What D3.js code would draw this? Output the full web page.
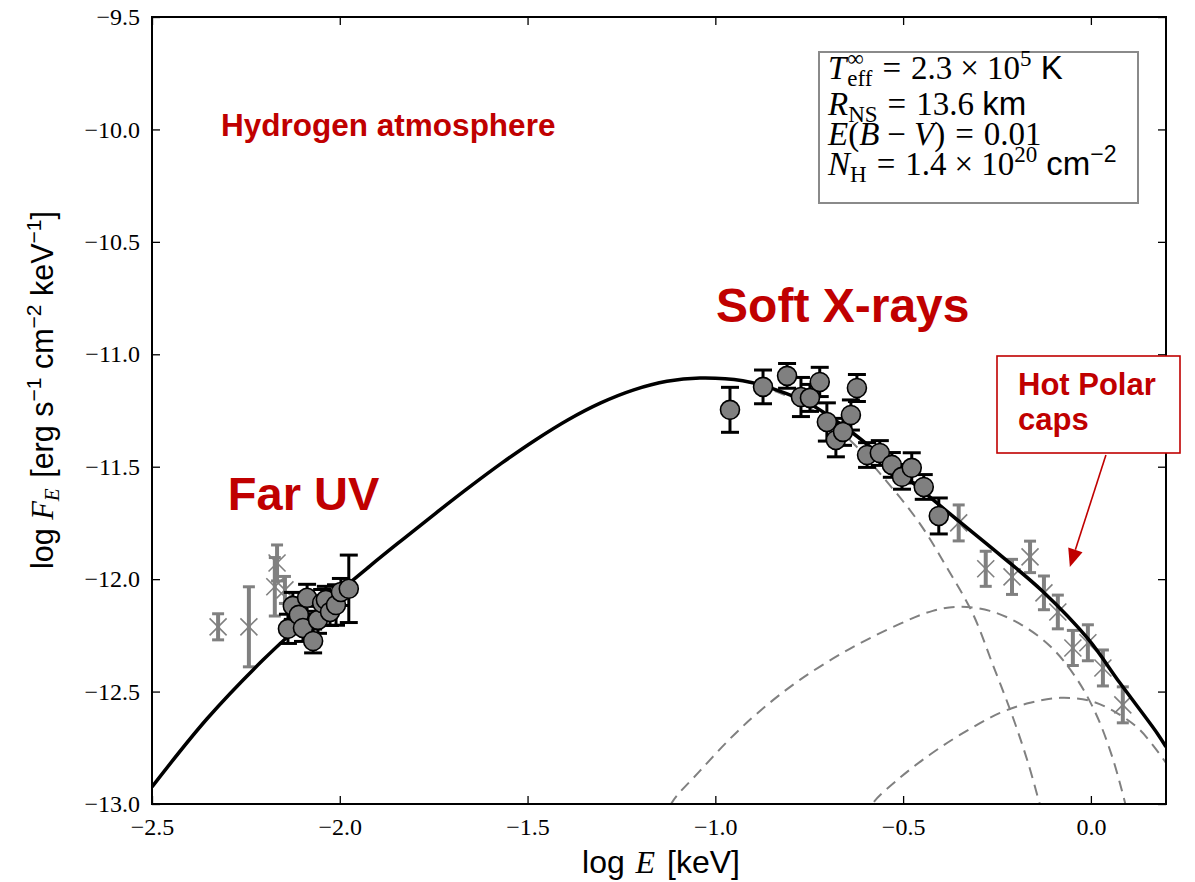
<!DOCTYPE html>
<html>
<head>
<meta charset="utf-8">
<script src="https://cdn.jsdelivr.net/npm/d3@7"></script>
<style>
  html, body { margin: 0; padding: 0; background: #fff; }
  svg { display: block; }
</style>
</head>
<body>
<svg id="chart" width="1195" height="882"></svg>
<script>
// ---------------- DATA (log E [keV], log F_E) ----------------
const xTicks = [-2.5, -2.0, -1.5, -1.0, -0.5, 0.0];
const xTickLabels = ["\u22122.5", "\u22122.0", "\u22121.5", "\u22121.0", "\u22120.5", "0.0"];
const yTicks = [-9.5, -10.0, -10.5, -11.0, -11.5, -12.0, -12.5, -13.0];
const yTickLabels = ["\u22129.5", "\u221210.0", "\u221210.5", "\u221211.0", "\u221211.5", "\u221212.0", "\u221212.5", "\u221213.0"];

// Total model (solid black)
const totalLogE = [-2.500, -2.354, -2.204, -2.063, -1.920, -1.832, -1.744, -1.656, -1.568, -1.480, -1.393, -1.305, -1.217, -1.129, -1.041, -0.927, -0.836, -0.748, -0.634, -0.509, -0.375, -0.242, -0.128, -0.008, 0.077, 0.176, 0.200];
const totalLogF = [-12.924, -12.622, -12.359, -12.143, -11.942, -11.823, -11.706, -11.592, -11.483, -11.382, -11.292, -11.216, -11.158, -11.120, -11.106, -11.118, -11.159, -11.221, -11.350, -11.523, -11.710, -11.892, -12.055, -12.265, -12.461, -12.684, -12.746];

// Hydrogen atmosphere component (dashed)
const atmLogE = [-2.500, -2.354, -2.204, -2.063, -1.920, -1.832, -1.744, -1.656, -1.568, -1.480, -1.393, -1.305, -1.217, -1.129, -1.041, -0.927, -0.836, -0.748, -0.642, -0.554, -0.455, -0.383, -0.314, -0.261, -0.208, -0.168, -0.136, -0.125];
const atmLogF = [-12.924, -12.622, -12.359, -12.143, -11.942, -11.823, -11.706, -11.592, -11.483, -11.382, -11.292, -11.216, -11.158, -11.120, -11.106, -11.118, -11.167, -11.239, -11.381, -11.545, -11.754, -11.950, -12.155, -12.381, -12.613, -12.813, -13.000, -13.060];

// Hot polar cap 1 (dashed)
const cap1LogE = [-1.135, -1.116, -1.041, -0.961, -0.881, -0.775, -0.642, -0.509, -0.421, -0.349, -0.269, -0.189, -0.109, -0.043, 0.011, 0.056, 0.091, 0.100];
const cap1LogF = [-13.08, -12.995, -12.853, -12.710, -12.586, -12.448, -12.310, -12.199, -12.141, -12.123, -12.141, -12.199, -12.297, -12.430, -12.590, -12.786, -12.995, -13.06];

// Hot polar cap 2 (dashed)
const cap2LogE = [-0.600, -0.580, -0.509, -0.429, -0.349, -0.242, -0.162, -0.083, -0.003, 0.064, 0.130, 0.200];
const cap2LogF = [-13.06, -12.995, -12.884, -12.781, -12.693, -12.595, -12.550, -12.528, -12.541, -12.590, -12.670, -12.817];

// Far UV detections (grey circles)
const fuvLogE = [-2.138, -2.125, -2.109, -2.098, -2.087, -2.071, -2.058, -2.047, -2.037, -2.026, -2.010, -1.997, -1.976];
const fuvLogF = [-12.221, -12.119, -12.159, -12.217, -12.083, -12.275, -12.181, -12.106, -12.092, -12.146, -12.115, -12.057, -12.043];
const fuvErr  = [0.065, 0.06, 0.06, 0.06, 0.06, 0.053, 0.06, 0.06, 0.06, 0.06, 0.09, 0.06, 0.15];

// Far UV grey crosses
const fuvXLogE = [-2.324, -2.242, -2.167, -2.173, -2.146];
const fuvXLogF = [-12.212, -12.212, -11.928, -12.034, -12.048];
const fuvXErr  = [0.058, 0.178, 0.08, 0.13, 0.06];

// Soft X-ray detections (grey circles)
const sxLogE = [-0.961, -0.873, -0.809, -0.772, -0.748, -0.722, -0.703, -0.679, -0.660, -0.639, -0.623, -0.596, -0.562, -0.530, -0.503, -0.477, -0.445, -0.405];
const sxLogF = [-11.247, -11.145, -11.096, -11.190, -11.194, -11.123, -11.301, -11.381, -11.345, -11.270, -11.150, -11.448, -11.439, -11.492, -11.545, -11.505, -11.590, -11.719];
const sxErr  = [0.10, 0.075, 0.055, 0.087, 0.06, 0.065, 0.085, 0.075, 0.06, 0.067, 0.06, 0.055, 0.055, 0.055, 0.055, 0.067, 0.055, 0.08];

// X-ray grey crosses
const hxLogE = [-0.352, -0.280, -0.210, -0.162, -0.125, -0.088, -0.048, -0.008, 0.032, 0.085];
const hxLogF = [-11.750, -11.954, -11.990, -11.901, -12.061, -12.146, -12.306, -12.283, -12.395, -12.559];
const hxErr  = [0.08, 0.078, 0.078, 0.07, 0.075, 0.075, 0.078, 0.08, 0.08, 0.08];

// ---------------- LAYOUT ----------------
const W = 1195, H = 882;
const margin = { left: 152, top: 17, right: 29, bottom: 78 };
const pw = W - margin.left - margin.right;   // 1014
const ph = H - margin.top - margin.bottom;   // 787

const RED = "#c00000";
const GREY = "#808080";
const SERIF = "'Liberation Serif', 'DejaVu Serif', serif";
const SANS = "'Liberation Sans', Arial, Helvetica, sans-serif";

const svg = d3.select("#chart");
const x = d3.scaleLinear().domain([-2.5, 0.2]).range([0, pw]);
const y = d3.scaleLinear().domain([-13.0, -9.5]).range([ph, 0]);

const g = svg.append("g").attr("transform", `translate(${margin.left},${margin.top})`);

svg.append("defs").append("clipPath").attr("id", "plotclip")
  .append("rect").attr("x", 0).attr("y", 0).attr("width", pw).attr("height", ph);

// ---------------- AXES ----------------
const tickLen = 8;
const axB = g.append("g").attr("transform", `translate(0,${ph})`)
  .call(d3.axisBottom(x).tickValues(xTicks).tickSize(-tickLen).tickPadding(14)
    .tickFormat((d, i) => xTickLabels[i]));
const axL = g.append("g")
  .call(d3.axisLeft(y).tickValues(yTicks).tickSize(-tickLen).tickPadding(12)
    .tickFormat((d, i) => yTickLabels[i]));
const axT = g.append("g")
  .call(d3.axisTop(x).tickValues(xTicks).tickSize(-tickLen).tickFormat(""));
const axR = g.append("g").attr("transform", `translate(${pw},0)`)
  .call(d3.axisRight(y).tickValues(yTicks).tickSize(-tickLen).tickFormat(""));
[axB, axL, axT, axR].forEach(a => {
  a.select(".domain").remove();
  a.selectAll(".tick line").attr("stroke", "#000").attr("stroke-width", 1.3);
  a.selectAll(".tick text").attr("fill", "#000")
    .style("font-family", SERIF).style("font-size", "24px");
});

// ---------------- CURVES ----------------
const plot = g.append("g").attr("clip-path", "url(#plotclip)");
const lineGen = d3.line().x(d => x(d[0])).y(d => y(d[1])).curve(d3.curveCatmullRom.alpha(0.5));
const zip = (a, b) => a.map((v, i) => [v, b[i]]);

[[atmLogE, atmLogF], [cap1LogE, cap1LogF], [cap2LogE, cap2LogF]].forEach(([e, f]) => {
  plot.append("path").datum(zip(e, f)).attr("d", lineGen)
    .attr("fill", "none").attr("stroke", GREY).attr("stroke-width", 2)
    .attr("stroke-dasharray", "11,7");
});

// grey crosses with error bars
function crosses(le, lf, err) {
  const pts = le.map((v, i) => ({ e: v, f: lf[i], s: err[i] }));
  const cg = plot.append("g");
  pts.forEach(p => {
    const cx = x(p.e), cy = y(p.f), t = y(p.f + p.s), b = y(p.f - p.s);
    cg.append("line").attr("x1", cx).attr("x2", cx).attr("y1", t).attr("y2", b)
      .attr("stroke", GREY).attr("stroke-width", 4);
    [t, b].forEach(yy => cg.append("line").attr("x1", cx - 6).attr("x2", cx + 6).attr("y1", yy).attr("y2", yy)
      .attr("stroke", GREY).attr("stroke-width", 3));
    const s = 8.5;
    cg.append("path").attr("d", `M${cx - s},${cy - s}L${cx + s},${cy + s}M${cx - s},${cy + s}L${cx + s},${cy - s}`)
      .attr("stroke", GREY).attr("stroke-width", 1.6).attr("fill", "none");
  });
}
crosses(fuvXLogE, fuvXLogF, fuvXErr);
crosses(hxLogE, hxLogF, hxErr);

// total model solid
plot.append("path").datum(zip(totalLogE, totalLogF)).attr("d", lineGen)
  .attr("fill", "none").attr("stroke", "#000").attr("stroke-width", 3.5);

// circles with error bars
function circles(le, lf, err) {
  const pts = le.map((v, i) => ({ e: v, f: lf[i], s: err[i] }));
  const bg = plot.append("g");
  pts.forEach(p => {
    const cx = x(p.e), t = y(p.f + p.s), b = y(p.f - p.s);
    bg.append("line").attr("x1", cx).attr("x2", cx).attr("y1", t).attr("y2", b)
      .attr("stroke", "#000").attr("stroke-width", 3);
    [t, b].forEach(yy => bg.append("line").attr("x1", cx - 9).attr("x2", cx + 9).attr("y1", yy).attr("y2", yy)
      .attr("stroke", "#000").attr("stroke-width", 3));
  });
  plot.append("g").selectAll("circle").data(pts).join("circle")
    .attr("cx", d => x(d.e)).attr("cy", d => y(d.f)).attr("r", 9.5)
    .attr("fill", GREY).attr("stroke", "#000").attr("stroke-width", 1.6);
}
circles(fuvLogE, fuvLogF, fuvErr);
circles(sxLogE, sxLogF, sxErr);

// frame
g.append("rect").attr("x", 0).attr("y", 0).attr("width", pw).attr("height", ph)
  .attr("fill", "none").attr("stroke", "#000").attr("stroke-width", 2);

// ---------------- RICH TEXT HELPER ----------------
function rich(parent, parts, baseSize) {
  const rg = parent.append("g");
  let cx = 0, lastStart = 0;
  parts.forEach(p => {
    const size = p.size || baseSize;
    if (!p.stack) cx += (p.pre || 0);
    const t = rg.append("text")
      .attr("x", p.stack ? lastStart : cx)
      .attr("y", p.shift || 0)
      .attr("fill", p.color || "#000")
      .style("font-family", p.serif ? SERIF : SANS)
      .style("font-style", p.italic ? "italic" : "normal")
      .style("font-size", size + "px")
      .text(p.t);
    const w = t.node().getComputedTextLength();
    if (p.stack) cx = Math.max(cx, lastStart + w);
    else { lastStart = cx; cx += w + (p.after || 0); }
  });
  return { g: rg, width: cx };
}
const S = "\u00A0";

// ---------------- AXIS LABELS ----------------
{
  const r = rich(svg, [
    { t: "log" + S },
    { t: "E", serif: true, italic: true, pre: 2, after: 3 },
    { t: S + "[keV]" }
  ], 32);
  r.g.attr("transform", `translate(${margin.left + pw * 0.5 - r.width / 2 + 2},${H - 9})`);
}
{
  const r = rich(svg, [
    { t: "log" + S },
    { t: "F", serif: true, italic: true },
    { t: "E", serif: true, italic: true, size: 21, shift: 6, after: 2 },
    { t: S + "[erg" + S + "s" },
    { t: "\u22121", size: 21, shift: -12 },
    { t: S + "cm" },
    { t: "\u22122", size: 21, shift: -12 },
    { t: S + "keV" },
    { t: "\u22121", size: 21, shift: -12 },
    { t: "]" }
  ], 30.5);
  r.g.attr("transform", `translate(53,${390 + r.width / 2}) rotate(-90)`);
}

// ---------------- ANNOTATIONS ----------------
function label(txt, e, f, size) {
  g.append("text").attr("x", x(e)).attr("y", y(f)).attr("fill", RED)
    .style("font-family", SANS).style("font-weight", "bold").style("font-size", size + "px")
    .text(txt);
}
label("Hydrogen atmosphere", -2.316, -10.029, 31.5);
label("Far UV", -2.298, -11.692, 47);
label("Soft X-rays", -0.998, -10.856, 48);

// parameter box
{
  const bx = margin.left + 667, by = margin.top + 35, bw = 319, bh = 151;
  svg.append("rect").attr("x", bx).attr("y", by).attr("width", bw).attr("height", bh)
    .attr("fill", "#fff").attr("stroke", "#8a8a8a").attr("stroke-width", 2);
  const sub = 23;
  const lines = [
    [{ t: "T", serif: true, italic: true, after: 1 },
     { t: "\u221E", serif: true, size: sub, shift: -13 },
     { t: "eff", serif: true, size: sub, shift: 7, stack: true },
     { t: "=", serif: true, pre: 10, after: 10 },
     { t: "2.3", serif: true },
     { t: "\u00D7", serif: true, pre: 8, after: 8 },
     { t: "10", serif: true },
     { t: "5", serif: true, size: sub, shift: -13 },
     { t: S + "K" }],
    [{ t: "R", serif: true, italic: true },
     { t: "NS", serif: true, size: sub, shift: 7 },
     { t: "=", serif: true, pre: 10, after: 10 },
     { t: "13.6" + S, serif: true },
     { t: "km" }],
    [{ t: "E", serif: true, italic: true },
     { t: "(", serif: true },
     { t: "B", serif: true, italic: true },
     { t: "\u2212", serif: true, pre: 8, after: 8 },
     { t: "V", serif: true, italic: true },
     { t: ")", serif: true },
     { t: "=", serif: true, pre: 10, after: 10 },
     { t: "0.01", serif: true }],
    [{ t: "N", serif: true, italic: true },
     { t: "H", serif: true, size: sub, shift: 7 },
     { t: "=", serif: true, pre: 10, after: 10 },
     { t: "1.4", serif: true },
     { t: "\u00D7", serif: true, pre: 8, after: 8 },
     { t: "10", serif: true },
     { t: "20", serif: true, size: sub, shift: -13 },
     { t: S + "cm" },
     { t: "\u22122", size: sub, shift: -13 }]
  ];
  const baselines = [79, 115, 145, 175];
  lines.forEach((parts, i) => {
    const r = rich(svg, parts, 33);
    r.g.attr("transform", `translate(${bx + 9},${baselines[i]})`);
  });
}

// Hot Polar caps box + arrow
{
  const bx = margin.left + 845, by = margin.top + 339, bw = 183, bh = 97;
  svg.append("rect").attr("x", bx).attr("y", by).attr("width", bw).attr("height", bh)
    .attr("fill", "#fff").attr("stroke", RED).attr("stroke-width", 1.6);
  svg.append("text").attr("x", bx + 21).attr("y", by + 39).attr("fill", RED)
    .style("font-family", SANS).style("font-weight", "bold").style("font-size", "31px").text("Hot Polar");
  svg.append("text").attr("x", bx + 21).attr("y", by + 74).attr("fill", RED)
    .style("font-family", SANS).style("font-weight", "bold").style("font-size", "31px").text("caps");

  const tail = [margin.left + x(0.040), margin.top + y(-11.448)];
  const tip = [margin.left + x(-0.056), margin.top + y(-11.946)];
  const dx = tip[0] - tail[0], dy = tip[1] - tail[1], L = Math.hypot(dx, dy);
  const ux = dx / L, uy = dy / L, hl = 18, hw = 7.5;
  const base = [tip[0] - ux * hl, tip[1] - uy * hl];
  svg.append("line").attr("x1", tail[0]).attr("y1", tail[1]).attr("x2", base[0]).attr("y2", base[1])
    .attr("stroke", RED).attr("stroke-width", 1.6);
  svg.append("path")
    .attr("d", `M${tip[0]},${tip[1]}L${base[0] - uy * hw},${base[1] + ux * hw}L${base[0] + uy * hw},${base[1] - ux * hw}Z`)
    .attr("fill", RED);
}
</script>
</body>
</html>
